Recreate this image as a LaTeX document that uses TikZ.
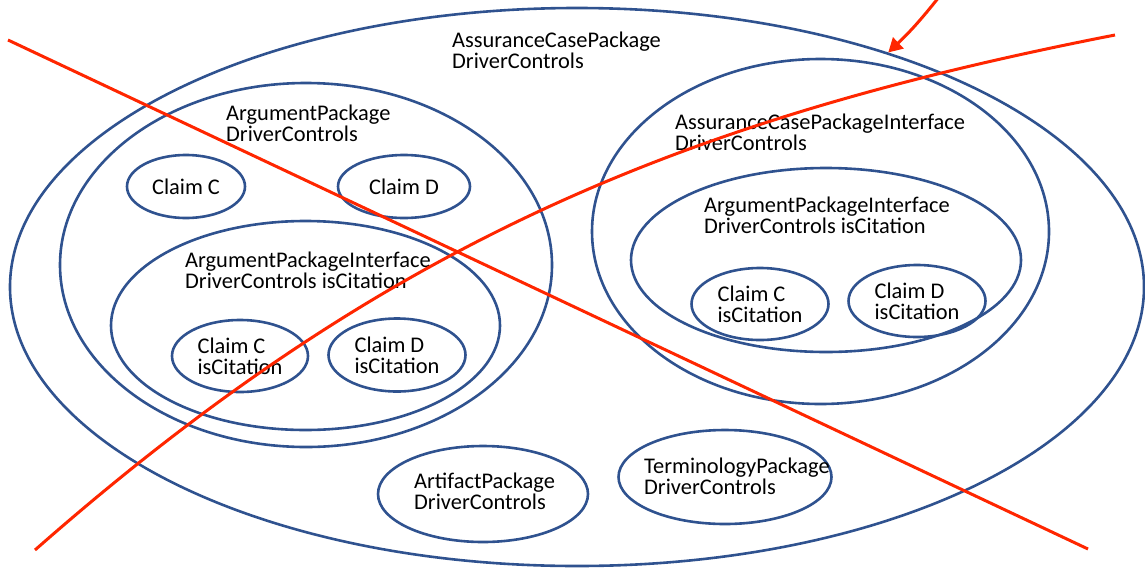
\documentclass[tikz,border=0pt]{standalone}
\usepackage{fontspec}
\setmainfont{Carlito}
\usetikzlibrary{shapes.geometric,arrows.meta}
\definecolor{pkgblue}{RGB}{47,82,143}
\definecolor{crossred}{RGB}{255,38,0}

\begin{document}
\begin{tikzpicture}[
    x=1pt, y=-1pt,
    every node/.style={inner sep=0pt, font=\fontsize{22.4}{21}\selectfont, align=left},
    pkg/.style={draw=pkgblue, line width=2.6pt, ellipse},
    lbl/.style={anchor=west},
    cross/.style={draw=crossred, line width=3pt}
]
\useasboundingbox (0,0) rectangle (1145,568);

% packages
\node[pkg, minimum width=1134pt, minimum height=558pt] (acp) at (577,287) {};
\node[pkg, minimum width=492pt, minimum height=364pt] (ap) at (306,265) {};
\node[pkg, minimum width=389pt, minimum height=209pt] (api) at (305.5,325.5) {};
\node[pkg, minimum width=457pt, minimum height=345pt] (acpi) at (820.5,231.5) {};
\node[pkg, minimum width=390pt, minimum height=184pt] (apir) at (826,260) {};
\node[pkg, minimum width=210pt, minimum height=96pt] (art) at (483,494) {};
\node[pkg, minimum width=213pt, minimum height=94pt] (term) at (725,477) {};

\node[lbl] (acpl) at (452,50.5) {AssuranceCasePackage\\DriverControls};
\node[lbl] (apl) at (226,123.5) {ArgumentPackage\\DriverControls};
\node[lbl] (acpil) at (675,132.5) {AssuranceCasePackageInterface\\DriverControls};
\node[lbl] (apil) at (185,270.5) {ArgumentPackageInterface\\DriverControls isCitation};
\node[lbl] (apirl) at (704,215.5) {ArgumentPackageInterface\\DriverControls isCitation};
\node[lbl] (artl) at (414,491.5) {ArtifactPackage\\DriverControls};
\node[lbl] (terml) at (644,476.5) {TerminologyPackage\\DriverControls};

% claims
\node[pkg, minimum width=118pt, minimum height=63pt] (cc) at (186,186.5) {Claim C};
\node[pkg, minimum width=132pt, minimum height=63pt] (cd) at (404,186.5) {Claim D};
\node[pkg, minimum width=136pt, minimum height=72pt] (cci) at (240,356) {Claim C\\isCitation};
\node[pkg, minimum width=137pt, minimum height=73pt] (cdi) at (397,355) {Claim D\\isCitation};
\node[pkg, minimum width=137pt, minimum height=72pt] (ccr) at (760,304) {Claim C\\isCitation};
\node[pkg, minimum width=137pt, minimum height=72pt] (cdr) at (917,301) {Claim D\\isCitation};

% crossing out
\coordinate (xa) at (8,40);
\coordinate (xb) at (1088,549);
\coordinate (ya) at (35,550);
\coordinate (yb) at (1115,35);
\coordinate (arr) at (939,-3);
\draw[cross] (xa) -- (xb);
\draw[cross] (ya) .. controls (385,242) and (685,119) .. (yb);
\draw[cross, -{Triangle[length=14pt, width=15pt]}] (arr) to[bend left=4] (acp.37);
\end{tikzpicture}
\end{document}
